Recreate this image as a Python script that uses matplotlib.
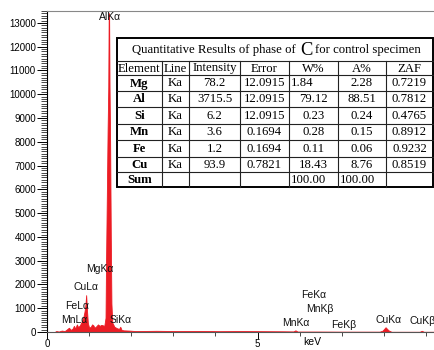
import numpy as np
import matplotlib
matplotlib.use("Agg")
import matplotlib.pyplot as plt
from matplotlib.ticker import MultipleLocator, FixedLocator
from matplotlib.transforms import blended_transform_factory

plt.rcParams.update({
    "font.family": ["Liberation Sans Narrow", "Liberation Sans", "DejaVu Sans"],
    "font.size": 7,
})

# ---------------------------
# Spectrum
# ---------------------------
energy_kev = [0.00, 0.18, 0.22, 0.28, 0.35, 0.42, 0.48, 0.52, 0.57, 0.61, 0.64, 0.67,
              0.71, 0.74, 0.78, 0.82, 0.86, 0.89, 0.91, 0.93, 0.95, 0.97, 1.00, 1.04,
              1.07, 1.10, 1.13, 1.17, 1.21, 1.25, 1.29, 1.33, 1.36, 1.39, 1.40, 1.42,
              1.44, 1.455, 1.465, 1.475, 1.485, 1.50, 1.515, 1.53, 1.55, 1.60, 1.66,
              1.71, 1.74, 1.77, 1.82, 1.95, 2.10, 2.60, 3.10, 3.60, 4.10, 4.60, 5.10,
              5.60, 5.85, 5.90, 5.95, 6.40, 7.00, 7.90, 7.97, 8.04, 8.11, 8.18, 8.85,
              8.90, 8.95, 9.20]
counts = [0, 0, 40, 20, 60, 40, 120, 180, 90, 150, 260, 140,
          320, 200, 280, 420, 600, 850, 1100, 1550, 900, 380, 180, 220,
          320, 280, 180, 240, 320, 260, 300, 280, 250, 600, 2600, 5600,
          8600, 10300, 13400, 13400, 10300, 7800, 4000, 1200, 400, 220, 160,
          130, 220, 90, 70, 60, 40, 50, 40, 45, 35, 40, 35,
          30, 25, 70, 20, 20, 15, 15, 60, 200, 70, 10, 10,
          50, 10, 10]

# Peak labels: text, energy (keV), counts, horizontal alignment
peak_labels = ["AlK\u03b1", "MgK\u03b1", "CuL\u03b1", "FeL\u03b1", "MnL\u03b1", "SiK\u03b1",
               "FeK\u03b1", "MnK\u03b2", "MnK\u03b1", "FeK\u03b2", "CuK\u03b1", "CuK\u03b2"]
peak_x = [1.50, 1.26, 0.93, 0.71, 0.64, 1.75, 6.34, 6.48, 5.90, 7.04, 8.10, 8.62]
peak_y = [13240, 2650, 1900, 1100, 500, 500, 1550, 960, 380, 300, 500, 480]
peak_ha = ["center"] * 11 + ["left"]

# ---------------------------
# Quantitative table
# ---------------------------
table_title = "Quantitative Results of phase of "
table_header = ["Element", "Line", "Intensity", "Error", "W%", "A%", "ZAF"]
elements = ["Mg", "Al", "Si", "Mn", "Fe", "Cu"]
lines = ["Ka", "Ka", "Ka", "Ka", "Ka", "Ka"]
intensity = ["78.2", "3715.5", "6.2", "3.6", "1.2", "93.9"]
error = ["12.0915", "12.0915", "12.0915", "0.1694", "0.1694", "0.7821"]
w_pct = ["1.84", "79.12", "0.23", "0.28", "0.11", "18.43"]
a_pct = ["2.28", "88.51", "0.24", "0.15", "0.06", "8.76"]
zaf = ["0.7219", "0.7812", "0.4765", "0.8912", "0.9232", "0.8519"]
sum_row = ["Sum", "", "", "", "100.00", "100.00", ""]

RED = "#ec1c24"

fig = plt.figure(figsize=(4.34, 3.5), dpi=100)
ax = fig.add_axes([47 / 434, 18 / 350, 387 / 434, 321 / 350])

ax.fill_between(energy_kev, counts, 0, color=RED, linewidth=0.6, edgecolor=RED)
ax.set_xlim(0, 9.19)
ax.set_ylim(0, 13500)

ax.yaxis.set_major_locator(MultipleLocator(1000))
ax.yaxis.set_minor_locator(MultipleLocator(100))
ax.xaxis.set_major_locator(FixedLocator([0, 5]))
ax.xaxis.set_minor_locator(MultipleLocator(1))
ax.tick_params(axis="y", which="major", length=7, width=0.7, pad=1, labelsize=7)
ax.tick_params(axis="y", which="minor", length=4, width=0.5)
ax.tick_params(axis="x", which="major", length=5, width=0.7, pad=0, labelsize=7)
ax.tick_params(axis="x", which="minor", length=3, width=0.5)

ax.spines["right"].set_visible(False)
ax.spines["top"].set_color("#888888")
ax.spines["top"].set_linewidth(0.8)
ax.spines["left"].set_linewidth(0.8)
ax.spines["bottom"].set_color("#555555")
ax.spines["bottom"].set_linewidth(0.8)

for txt, x, y, ha in zip(peak_labels, peak_x, peak_y, peak_ha):
    ax.text(x, y, txt, ha=ha, va="center", fontsize=7.5,
            family=["Liberation Sans", "DejaVu Sans"], color="#111111")

trans = blended_transform_factory(ax.transData, ax.transAxes)
ax.text(6.3, -0.03, "keV", transform=trans, ha="center", va="center", fontsize=7.5,
        family=["Liberation Sans", "DejaVu Sans"])

# ---------------------------
# Table overlay in pixel coordinates
# ---------------------------
ov = fig.add_axes([0, 0, 1, 1])
ov.set_xlim(0, 434)
ov.set_ylim(350, 0)
ov.axis("off")

col_x = [116.5, 162, 189, 240, 289, 338, 386, 433]
row_y = [38, 61, 75, 91, 107, 123.5, 140, 156.5, 172, 187]
serif = ["Liberation Serif", "DejaVu Serif"]
fs = 9.2

ov.add_patch(plt.Rectangle((col_x[0], row_y[0]), col_x[-1] - col_x[0], row_y[-1] - row_y[0],
                           facecolor="white", edgecolor="black", linewidth=1.4, zorder=1))
for y in row_y[1:-1]:
    ov.plot([col_x[0], col_x[-1]], [y, y], color="#222222", linewidth=0.8, zorder=2)
for x in col_x[1:-1]:
    ov.plot([x, x], [row_y[1], row_y[-1]], color="#222222", linewidth=0.8, zorder=2)

title_y = (row_y[0] + row_y[1]) / 2 + 1
t1 = ov.text(132, title_y, table_title, ha="left", va="center", fontsize=fs, family=serif, zorder=3)
fig.canvas.draw()
bb = t1.get_window_extent()
x_after = bb.x1
t2 = ov.text(x_after + 1, title_y, "C", ha="left", va="center", fontsize=fs * 1.45,
             family=serif, zorder=3)
fig.canvas.draw()
bb2 = t2.get_window_extent()
ov.text(bb2.x1 + 3, title_y, "for control specimen", ha="left", va="center", fontsize=fs,
        family=serif, zorder=3)


def cell(col, row, text, bold=False, align="center"):
    y = (row_y[row] + row_y[row + 1]) / 2 + 0.5
    if align == "center":
        x = (col_x[col] + col_x[col + 1]) / 2
    else:
        x = col_x[col] + 1.5
    ov.text(x, y, text, ha=align, va="center", fontsize=fs, family=serif,
            fontweight="bold" if bold else "normal", zorder=3)


for c, h in enumerate(table_header):
    cell(c, 1, h)

for r in range(len(elements)):
    row = r + 2
    cell(0, row, elements[r], bold=True)
    cell(1, row, lines[r])
    cell(2, row, intensity[r])
    cell(3, row, error[r])
    cell(4, row, w_pct[r], align="left" if r == 0 else "center")
    cell(5, row, a_pct[r])
    cell(6, row, zaf[r])

sum_idx = len(elements) + 2
cell(0, sum_idx, sum_row[0], bold=True)
cell(4, sum_idx, sum_row[4], align="left")
cell(5, sum_idx, sum_row[5], align="left")

fig.savefig("out.png", dpi=100)
